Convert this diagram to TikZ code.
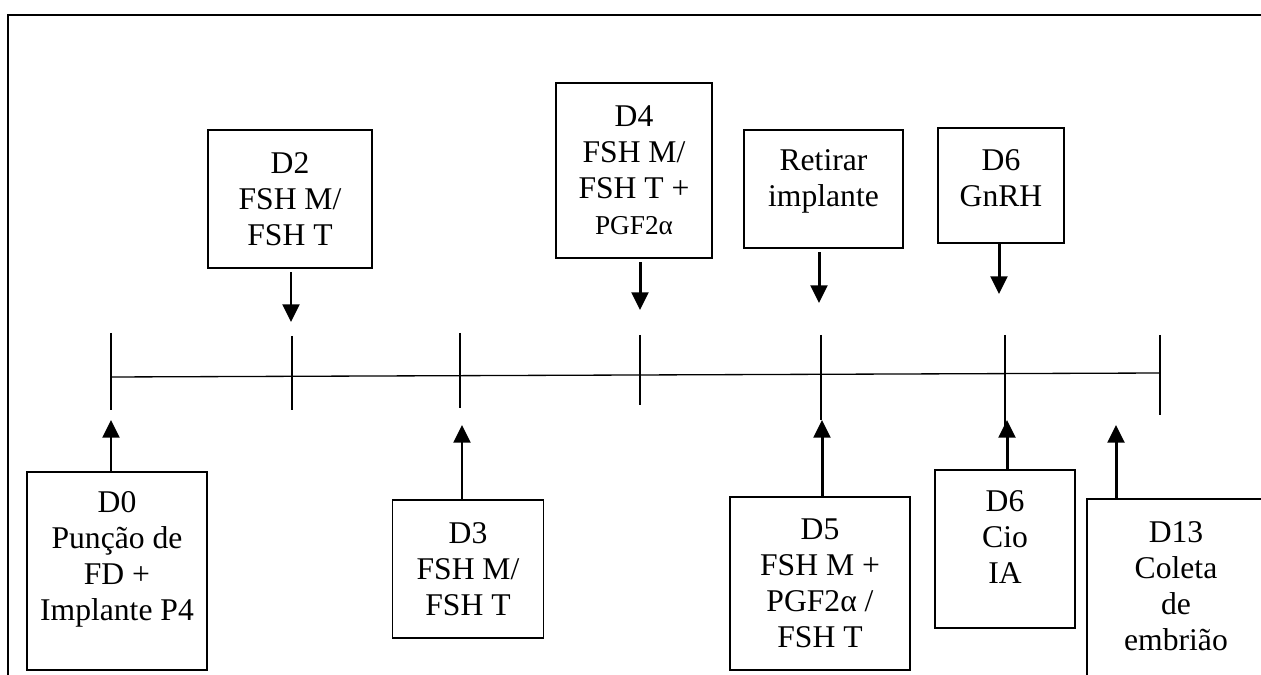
\documentclass[tikz,border=0pt]{standalone}
\usepackage{fontspec}
\setmainfont{Liberation Serif}
\usetikzlibrary{arrows.meta}

\tikzset{
  box/.style={draw, line width=0.8pt, align=center, inner sep=0pt,
    font=\fontsize{18}{20.5}\selectfont},
  txt/.style={align=center, font=\fontsize{18}{20.5}\selectfont},
  arr/.style={line width=1.7pt, -{Triangle[width=9.5pt,length=10pt]}},
  tick/.style={line width=0.75pt},
}

\begin{document}
\begin{tikzpicture}[x=0.02cm, y=-0.02cm]
    \useasboundingbox (0,0) rectangle (1261,675);
    \clip (0,0) rectangle (1261,675);

    % cornice
    \draw[line width=1.3pt] (8,690) -- (8,15) -- (1280,15);

    % linea del tempo
    \draw[tick] (111,377) -- (1160,373);
    \foreach \x/\a/\b in {111/333/410, 292/336/410, 460/333/408, 640/335/405,
                          821/335/420, 1005/335/430, 1160/335/415}
        \draw[tick] (\x,\a) -- (\x,\b);

    % punte delle frecce
    \coordinate (a2) at (291,322);
    \coordinate (a4) at (640,310);
    \coordinate (ar) at (819,303);
    \coordinate (a6) at (999,294);
    \coordinate (b0) at (111,420);
    \coordinate (b3) at (462,425);
    \coordinate (b5) at (822,420);
    \coordinate (b6) at (1007,420);
    \coordinate (b13) at (1116,425);

    % riquadri sopra
    \node[box, minimum width=3.28cm, minimum height=2.76cm] (d2) at (290,199)
        {D2\\FSH M/\\FSH T};
    \node[box, minimum width=3.12cm, minimum height=3.5cm] (d4) at (634,170.5)
        {D4\\FSH M/\\FSH T +\\{\fontsize{15.5}{18}\selectfont PGF2α}};
    \node[box, minimum width=3.18cm, minimum height=2.36cm,
        label={[txt,yshift=0.16cm]center:Retirar\\implante}] (ret) at (823.5,189) {};
    \node[box, minimum width=2.52cm, minimum height=2.3cm,
        label={[txt,yshift=0.14cm]center:D6\\GnRH}] (d6g) at (1001,185.5) {};

    % riquadri sotto
    \node[box, minimum width=3.6cm, minimum height=3.96cm,
        label={[txt,yshift=0.24cm]center:D0\\Punção de\\FD +\\Implante P4}] (d0) at (117,571) {};
    \node[box, minimum width=3.02cm, minimum height=2.76cm] (d3) at (468,569)
        {D3\\FSH M/\\FSH T};
    \node[box, minimum width=3.6cm, minimum height=3.46cm] (d5) at (820,583.5)
        {D5\\FSH M +\\PGF2α /\\FSH T};
    \node[box, minimum width=2.8cm, minimum height=3.16cm,
        label={[txt,yshift=0.24cm]center:D6\\Cio\\IA}] (d6c) at (1005,549) {};
    \node[box, minimum width=3.56cm, minimum height=4.02cm,
        label={[txt,yshift=0.27cm]center:D13\\Coleta\\de\\embrião}] (d13) at (1176,599.5) {};

    % frecce
    \draw[arr, shorten <=2pt] (d2.south -| a2) -- (a2);
    \draw[arr, shorten <=2pt] (d4.south -| a4) -- (a4);
    \draw[arr, shorten <=2pt] (ret.south -| ar) -- (ar);
    \draw[arr] (d6g.south -| a6) -- (a6);
    \draw[arr] (d0.north -| b0) -- (b0);
    \draw[arr] (d3.north -| b3) -- (b3);
    \draw[arr] (d5.north -| b5) -- (b5);
    \draw[arr] (d6c.north -| b6) -- (b6);
    \draw[arr] (d13.north -| b13) -- (b13);
\end{tikzpicture}
\end{document}
